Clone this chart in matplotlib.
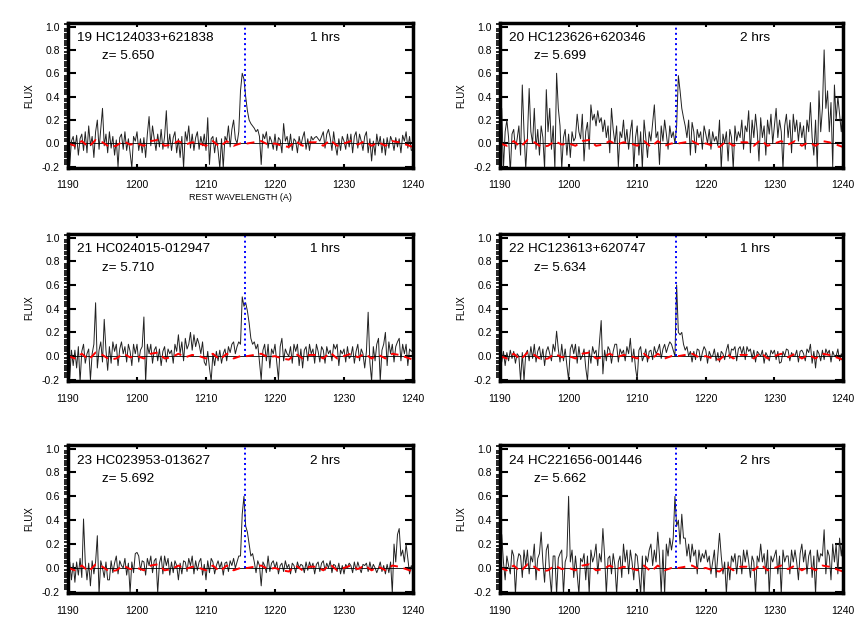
import matplotlib
matplotlib.use("Agg")
import matplotlib.pyplot as plt
import numpy as np
from matplotlib.ticker import MultipleLocator

plt.rcParams['font.family'] = ['Liberation Sans', 'DejaVu Sans']

# wavelength grid of the spectra (rest frame, Angstrom)
wave_start = 1190.0
wave_step = 0.25
lya = 1215.67

# panel labels
names = ["19 HC124033+621838", "20 HC123626+620346",
         "21 HC024015-012947", "22 HC123613+620747",
         "23 HC023953-013627", "24 HC221656-001446"]
redshifts = ["5.650", "5.699", "5.710", "5.634", "5.692", "5.662"]
exposures = ["1 hrs", "2 hrs", "1 hrs", "1 hrs", "2 hrs", "2 hrs"]

# fluxes, 4 points per Angstrom
flux19 = [0.05, -0.18, 0.02, 0.06, -0.05, 0.07, -0.10, 0.04, 0.08, -0.06, 0.10, -0.08, 0.15, -0.02, 0.06, -0.12, 0.10, 0.20, -0.05, 0.12,
          0.30, -0.02, 0.08, -0.08, 0.10, -0.04, 0.06, -0.10, 0.03, -0.20, 0.05, 0.08, -0.05, 0.10, -0.06, 0.04, -0.08, -0.21, 0.06, 0.02,
          0.10, -0.06, 0.04, -0.08, 0.05, -0.12, 0.08, 0.23, -0.02, 0.15, 0.04, -0.06, 0.08, -0.03, 0.12, -0.05, 0.06, 0.28, -0.04, 0.08,
          -0.06, 0.05, 0.10, -0.08, 0.04, -0.12, 0.06, -0.21, 0.10, 0.02, 0.15, -0.04, 0.08, -0.06, 0.05, 0.10, -0.05, 0.06, -0.02, 0.08,
          -0.06, 0.22, -0.18, 0.04, 0.06, -0.08, 0.05, -0.06, -0.21, 0.04, -0.21, 0.06, 0.02, 0.15, -0.03, 0.12, 0.20, 0.04, 0.00, 0.10,
          0.45, 0.60, 0.55, 0.40, 0.28, 0.20, 0.17, 0.15, 0.13, 0.10, 0.12, 0.06, -0.18, 0.08, 0.04, 0.10, -0.04, 0.06, 0.02, -0.05,
          0.08, -0.06, 0.05, 0.03, -0.08, 0.17, 0.02, 0.06, -0.04, 0.08, -0.06, 0.04, 0.02, -0.08, 0.06, -0.02, 0.05, 0.10, -0.05, 0.04,
          -0.06, 0.06, 0.03, 0.05, 0.06, 0.04, 0.02, 0.06, 0.10, -0.04, 0.08, 0.12, 0.05, -0.06, 0.10, -0.02, -0.10, 0.04, -0.06, 0.06,
          0.02, -0.05, 0.08, -0.03, 0.08, -0.08, 0.06, 0.10, -0.04, 0.08, 0.02, -0.06, 0.06, 0.10, -0.08, 0.04, -0.15, 0.02, -0.10, 0.08,
          -0.02, 0.06, -0.08, 0.04, -0.10, 0.05, -0.04, 0.06, 0.02, -0.06, 0.05, -0.03, 0.04, -0.08, 0.07, 0.02, 0.10, -0.04, 0.06, -0.06,
          -0.05]
flux20 = [0.20, 0.30, -0.22, 0.10, 0.20, 0.05, -0.25, 0.08, 0.12, -0.05, 0.04, 0.15, -0.10, 0.50, 0.10, -0.22, 0.05, 0.47, 0.10, 0.00,
          0.30, -0.05, 0.12, -0.10, 0.15, 0.05, -0.22, 0.46, 0.10, 0.30, -0.05, 0.15, -0.22, 0.60, 0.30, 0.15, -0.22, 0.05, 0.12, -0.10,
          0.08, -0.12, 0.10, 0.02, 0.05, 0.25, 0.10, 0.04, 0.25, -0.15, 0.10, 0.18, -0.05, 0.33, 0.20, 0.25, 0.15, 0.28, 0.18, 0.22,
          0.10, 0.20, 0.05, 0.15, -0.08, 0.30, 0.12, 0.00, 0.15, -0.20, 0.10, 0.05, 0.20, 0.00, 0.12, -0.05, 0.10, 0.20, -0.22, 0.05,
          0.15, -0.10, 0.10, -0.22, 0.20, 0.05, -0.12, 0.10, 0.02, 0.18, 0.33, 0.05, 0.10, -0.18, 0.15, 0.02, 0.20, 0.08, -0.05, 0.15,
          0.05, 0.10, 0.00, 0.15, 0.58, 0.45, 0.30, 0.22, 0.15, 0.05, 0.20, -0.10, 0.18, 0.10, -0.08, 0.12, 0.05, 0.10, -0.05, 0.15,
          0.08, 0.00, 0.12, -0.05, 0.10, 0.02, 0.06, -0.02, 0.20, -0.22, 0.08, 0.00, 0.10, -0.15, 0.12, 0.05, -0.22, 0.15, 0.02, 0.10,
          0.05, 0.20, -0.05, 0.15, 0.10, 0.28, -0.08, 0.20, 0.05, 0.25, 0.10, -0.15, 0.22, 0.05, 0.15, -0.10, 0.20, 0.08, 0.25, 0.00,
          0.15, 0.30, 0.05, 0.20, 0.10, -0.22, 0.15, 0.25, 0.05, 0.20, -0.08, 0.25, 0.10, 0.20, 0.02, 0.18, 0.05, 0.15, -0.05, 0.20,
          0.10, 0.35, 0.05, -0.10, 0.20, -0.22, 0.45, 0.10, 0.30, 0.80, 0.30, 0.45, 0.10, 0.35, -0.20, 0.50, 0.20, 0.40, 0.25, 0.10,
          0.30]
flux21 = [0.42, -0.18, 0.05, -0.08, 0.05, -0.10, 0.08, -0.22, 0.04, 0.10, -0.06, 0.02, 0.06, -0.20, 0.02, 0.10, 0.45, -0.10, 0.05, 0.12,
          -0.05, 0.31, 0.05, -0.12, 0.08, -0.06, 0.12, 0.04, 0.10, -0.08, 0.06, 0.12, 0.02, 0.08, -0.05, 0.10, 0.04, -0.08, 0.10, 0.02,
          0.10, -0.05, 0.05, 0.08, 0.33, -0.22, 0.10, 0.02, 0.10, -0.06, 0.05, 0.08, -0.04, 0.06, -0.08, 0.04, 0.08, -0.05, 0.06, 0.02,
          0.05, -0.06, 0.10, 0.04, 0.18, 0.02, 0.12, -0.04, 0.15, 0.06, 0.10, 0.20, 0.05, 0.18, 0.08, 0.15, 0.10, 0.02, 0.12, -0.05,
          -0.08, 0.04, -0.10, -0.21, 0.02, -0.08, 0.04, -0.04, 0.05, -0.06, 0.02, 0.06, -0.04, 0.08, 0.03, 0.10, 0.12, 0.02, 0.08, 0.12,
          0.10, 0.50, 0.42, 0.45, 0.38, 0.28, 0.15, 0.10, 0.12, 0.06, 0.10, -0.05, -0.20, 0.05, 0.10, -0.04, 0.10, -0.10, 0.06, 0.02,
          0.10, -0.05, -0.20, 0.08, 0.15, -0.04, 0.06, 0.02, 0.00, 0.08, -0.06, 0.10, 0.04, 0.10, -0.08, 0.06, -0.10, 0.05, 0.08, -0.04,
          0.10, 0.02, 0.06, -0.06, 0.10, 0.04, -0.05, 0.08, 0.05, -0.06, 0.08, 0.02, 0.05, -0.04, 0.10, 0.06, 0.10, -0.08, 0.05, 0.02,
          0.06, -0.05, 0.08, -0.02, 0.00, 0.08, -0.06, 0.04, 0.10, -0.04, 0.06, 0.02, -0.10, 0.04, 0.37, -0.05, -0.21, 0.08, -0.04, 0.10,
          0.15, -0.21, 0.05, 0.10, 0.20, -0.08, 0.12, 0.02, 0.10, -0.05, 0.08, 0.12, 0.15, -0.04, 0.10, 0.02, 0.10, -0.08, 0.06, 0.04,
          0.05]
flux22 = [0.02, -0.05, 0.04, -0.08, 0.03, -0.04, 0.05, -0.02, 0.04, -0.06, 0.02, 0.00, -0.21, 0.03, -0.21, 0.02, 0.05, -0.04, 0.08, -0.02,
          0.10, -0.05, 0.04, 0.08, -0.03, 0.06, -0.08, 0.04, 0.08, 0.02, -0.04, 0.10, 0.04, 0.21, 0.06, -0.05, 0.10, -0.04, 0.06, -0.08,
          -0.20, 0.06, 0.10, 0.02, 0.10, -0.06, 0.08, -0.03, 0.00, 0.06, -0.10, -0.21, 0.05, -0.06, 0.08, 0.02, 0.05, -0.08, 0.12, 0.30,
          -0.15, 0.05, -0.04, 0.08, 0.05, -0.06, 0.04, 0.10, 0.10, -0.05, 0.06, 0.02, 0.05, -0.04, 0.08, 0.02, 0.15, -0.05, 0.06, -0.10,
          -0.20, 0.05, 0.08, -0.04, 0.00, 0.06, -0.05, 0.04, 0.05, -0.03, 0.08, 0.02, 0.05, 0.10, -0.02, 0.06, 0.10, 0.03, 0.08, 0.12,
          0.10, 0.05, 0.00, 0.60, 0.20, 0.18, 0.20, 0.10, 0.05, 0.08, 0.00, 0.04, -0.05, 0.04, -0.03, 0.06, 0.05, -0.04, 0.03, 0.08,
          0.05, -0.06, 0.04, 0.00, 0.00, 0.06, -0.04, 0.03, -0.05, 0.04, 0.02, -0.03, 0.05, 0.10, -0.02, 0.06, 0.05, 0.08, -0.04, 0.06,
          0.08, 0.02, 0.08, -0.03, 0.08, 0.04, 0.06, -0.02, 0.05, -0.05, 0.04, 0.02, 0.00, 0.05, -0.06, 0.03, 0.00, -0.04, 0.05, 0.02,
          0.05, -0.03, 0.04, -0.06, -0.05, 0.04, 0.00, 0.06, 0.05, -0.04, 0.03, 0.00, 0.00, 0.05, -0.05, 0.04, 0.05, 0.02, -0.04, 0.06,
          0.03, 0.10, -0.06, 0.04, -0.10, 0.05, 0.02, -0.04, 0.05, -0.03, 0.06, 0.02, 0.05, -0.05, 0.04, 0.00, 0.00, 0.06, -0.04, 0.02,
          -0.02]
flux23 = [0.02, 0.05, -0.10, 0.04, -0.12, 0.05, -0.06, 0.08, -0.08, 0.41, 0.05, -0.10, 0.04, -0.15, 0.06, -0.05, 0.05, 0.27, -0.22, 0.06,
          0.00, -0.08, 0.05, -0.10, -0.10, 0.06, -0.04, 0.04, 0.10, -0.05, 0.06, 0.02, 0.00, 0.08, -0.06, 0.04, -0.21, 0.05, -0.04, 0.12,
          0.13, 0.10, -0.02, 0.06, 0.05, -0.06, 0.08, 0.02, 0.10, -0.04, 0.06, 0.08, -0.21, 0.04, 0.10, -0.05, 0.10, 0.02, 0.08, -0.06,
          0.05, -0.04, 0.06, 0.02, -0.10, 0.04, -0.05, 0.06, 0.05, -0.03, 0.08, 0.02, 0.10, -0.05, 0.06, -0.02, 0.05, 0.08, -0.06, 0.03,
          -0.10, 0.06, -0.04, 0.08, 0.05, -0.05, 0.02, 0.06, 0.00, 0.05, -0.06, 0.04, 0.05, -0.03, 0.06, 0.02, 0.08, 0.00, 0.05, 0.10,
          0.10, 0.45, 0.60, 0.35, 0.30, 0.20, 0.10, 0.12, 0.05, -0.04, 0.06, 0.02, -0.15, 0.05, 0.02, -0.04, 0.10, -0.03, 0.04, 0.06,
          0.00, 0.05, -0.05, 0.02, 0.04, -0.03, 0.06, 0.00, 0.03, -0.05, 0.04, 0.02, -0.04, 0.05, 0.00, 0.03, 0.02, -0.04, 0.05, -0.02,
          0.05, 0.00, 0.04, -0.05, 0.03, 0.05, -0.03, 0.04, 0.06, -0.02, 0.04, 0.00, 0.06, -0.04, 0.03, 0.02, -0.03, 0.04, -0.05, 0.02,
          -0.05, 0.03, 0.00, 0.04, 0.02, -0.04, 0.05, -0.02, 0.05, 0.00, -0.04, 0.03, 0.02, 0.04, -0.03, 0.05, -0.02, 0.03, 0.00, -0.04,
          0.00, 0.05, -0.03, 0.02, -0.05, 0.03, -0.04, 0.05, -0.21, 0.20, 0.05, 0.28, 0.33, 0.10, 0.15, 0.05, 0.20, 0.08, -0.05, 0.02,
          -0.05]
flux24 = [-0.22, 0.28, 0.05, -0.10, 0.10, 0.02, -0.05, 0.15, 0.10, -0.22, 0.05, 0.12, 0.10, -0.08, 0.15, 0.02, 0.15, -0.05, 0.10, 0.05,
          0.20, -0.10, 0.08, 0.12, 0.30, 0.05, -0.12, 0.15, 0.20, -0.05, -0.22, 0.10, 0.10, -0.22, 0.08, 0.12, 0.15, -0.22, 0.05, 0.10,
          0.60, 0.05, 0.15, -0.08, 0.10, -0.05, -0.22, 0.08, 0.05, 0.12, -0.10, 0.10, -0.22, 0.15, 0.05, 0.10, 0.20, -0.05, 0.12, 0.05,
          0.33, 0.10, -0.22, 0.08, 0.10, -0.05, 0.12, 0.02, -0.22, 0.05, 0.10, -0.08, 0.20, 0.05, 0.15, -0.05, 0.15, 0.05, -0.10, 0.12,
          0.10, -0.05, -0.22, 0.10, -0.22, 0.10, 0.05, 0.15, 0.20, 0.02, 0.15, 0.05, 0.30, 0.10, -0.22, 0.15, -0.22, 0.20, 0.10, 0.25,
          0.15, 0.25, 0.60, 0.35, 0.40, 0.20, 0.45, 0.25, 0.25, 0.10, 0.20, 0.05, 0.20, 0.10, 0.15, -0.05, 0.15, 0.05, 0.12, 0.08,
          0.15, 0.05, 0.10, -0.05, 0.05, 0.15, -0.08, 0.10, 0.29, 0.10, -0.05, 0.05, -0.22, 0.05, -0.10, 0.10, 0.05, 0.12, -0.05, 0.10,
          0.10, -0.05, 0.15, 0.05, 0.15, 0.05, -0.08, 0.10, 0.05, -0.22, 0.10, 0.05, 0.20, 0.05, 0.12, -0.05, 0.15, -0.22, 0.10, 0.05,
          0.10, 0.15, -0.05, 0.10, -0.22, 0.15, 0.05, 0.10, 0.10, -0.05, 0.15, 0.05, 0.15, 0.05, -0.10, 0.12, 0.20, 0.05, 0.15, -0.05,
          0.10, 0.15, -0.08, 0.10, -0.22, 0.15, 0.05, 0.12, 0.10, 0.32, -0.05, 0.15, 0.10, -0.10, 0.20, 0.05, 0.20, -0.05, 0.25, 0.10,
          0.25]
fluxes = [flux19, flux20, flux21, flux22, flux23, flux24]

# red dashed curve near zero, one point per Angstrom
resid = [0.00, -0.02, 0.02, -0.03, 0.03, 0.01, -0.03, -0.02, 0.02, -0.01, 0.00, -0.02, 0.02, 0.03, -0.02, -0.01, 0.02,
         -0.01, 0.01, 0.00, -0.02, 0.02, -0.03, 0.02, -0.02, 0.00, 0.00, 0.01, 0.02, -0.01, 0.00, -0.02, -0.03, 0.02,
         -0.02, 0.01, 0.01, -0.02, 0.03, -0.02, 0.00, 0.02, -0.01, 0.02, -0.02, 0.01, -0.02, 0.02, 0.01, -0.01, -0.03]

# axes boxes in pixels (left, top, right, bottom) for an 864x637 figure
W, H = 864, 637
boxes = [(68, 23, 413, 168), (500, 23, 843, 168),
         (68, 234, 413, 381), (500, 234, 843, 381),
         (68, 445, 413, 593), (500, 445, 843, 593)]

fig = plt.figure(figsize=(W / 100, H / 100), dpi=100)

for i in range(6):
    l, t, r, b = boxes[i]
    ax = fig.add_axes([l / W, 1 - b / H, (r - l) / W, (b - t) / H])
    wave = wave_start + wave_step * np.arange(len(fluxes[i]))
    ax.plot(wave, fluxes[i], color='#222222', lw=0.7)
    ax.axhline(0, color='black', lw=0.6)
    rwave = wave_start + np.arange(len(resid))
    ax.plot(rwave, resid, color='red', lw=1.4, ls=(0, (4, 3)))
    ax.plot([lya, lya], [0, 1.05], color='blue', lw=1.4, ls=':')

    ax.set_xlim(1190, 1240)
    ax.set_ylim(-0.21, 1.03)
    ax.xaxis.set_major_locator(MultipleLocator(10))
    ax.yaxis.set_major_locator(MultipleLocator(0.2))
    ax.yaxis.set_minor_locator(MultipleLocator(0.02))
    ax.yaxis.set_major_formatter(plt.FuncFormatter(lambda v, p: f"{v:.1f}"))
    ax.tick_params(direction='in', top=True, right=True, labelsize=7.5,
                   width=1.5)
    ax.tick_params(axis='x', which='major', length=3, pad=9)
    ax.tick_params(axis='y', which='major', length=6, pad=6)
    ax.tick_params(axis='y', which='minor', length=3, width=1.2)
    for s in ax.spines.values():
        s.set_linewidth(2.5)
    ax.set_ylabel('FLUX', fontsize=7, labelpad=5)
    if i == 0:
        ax.set_xlabel('REST WAVELENGTH (A)', fontsize=6.5, labelpad=2)

    ax.text(0.026, 0.895, names[i], transform=ax.transAxes, fontsize=9.7,
            va='center', ha='left')
    ax.text(0.099, 0.77, 'z= ' + redshifts[i], transform=ax.transAxes,
            fontsize=9.7, va='center', ha='left')
    ax.text(0.70, 0.895, exposures[i], transform=ax.transAxes, fontsize=9.7,
            va='center', ha='left')

plt.savefig("out.png", dpi=100)
